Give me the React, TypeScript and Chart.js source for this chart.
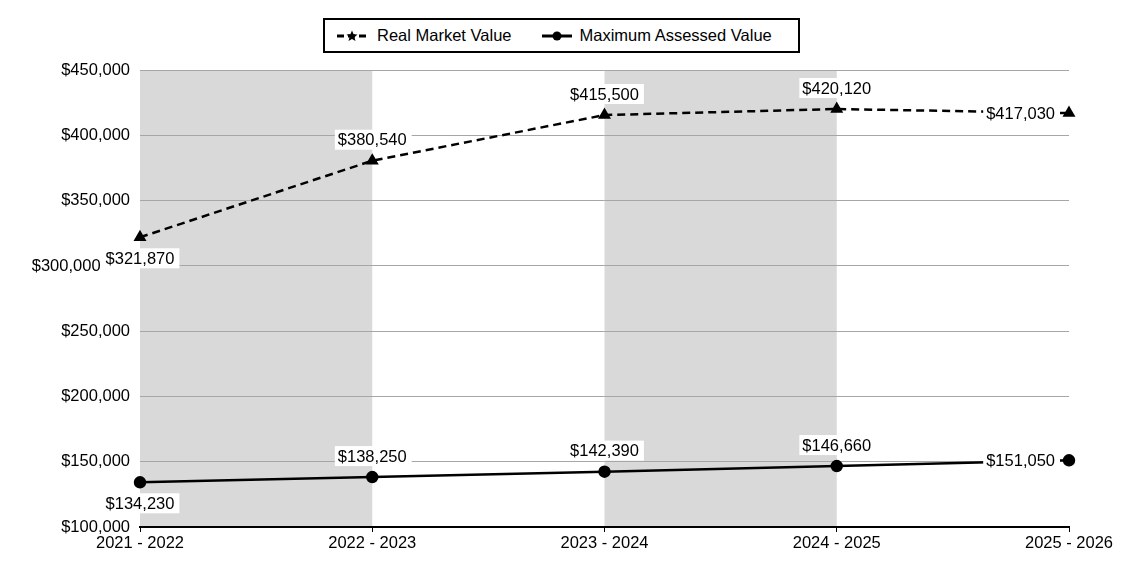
import React, { useEffect, useRef } from "react";
import { Chart, registerables } from "chart.js";

Chart.register(...registerables);

const categories = ["2021 - 2022", "2022 - 2023", "2023 - 2024", "2024 - 2025", "2025 - 2026"];
const realMarketValue = [321870, 380540, 415500, 420120, 417030];
const maxAssessedValue = [134230, 138250, 142390, 146660, 151050];
const seriesNames = ["Real Market Value", "Maximum Assessed Value"];
const yMin = 100000;
const yMax = 450000;
const yStep = 50000;

const FONT = "'Liberation Sans', Arial, sans-serif";
const FSIZE = 16.5;
const fmt = (v: number) => "$" + v.toLocaleString("en-US");

const bandsPlugin = {
  id: "bands",
  beforeDraw(chart: any) {
    const { ctx, chartArea, scales } = chart;
    const x = scales.x;
    ctx.save();
    ctx.fillStyle = "#d9d9d9";
    for (let i = 0; i + 1 < categories.length; i += 2) {
      const x0 = x.getPixelForValue(i);
      const x1 = x.getPixelForValue(i + 1);
      ctx.fillRect(x0, chartArea.top, x1 - x0, chartArea.bottom - chartArea.top);
    }
    ctx.restore();
  },
};

const labelsPlugin = {
  id: "valueLabels",
  afterDatasetsDraw(chart: any) {
    const { ctx, chartArea, scales } = chart;
    ctx.save();
    ctx.font = FSIZE + "px " + FONT;
    ctx.textBaseline = "middle";
    const items: { text: string; cx: number; cy: number; l: number; r: number; t: number; b: number }[] = [];
    chart.data.datasets.forEach((ds: any, di: number) => {
      const meta = chart.getDatasetMeta(di);
      meta.data.forEach((pt: any, i: number) => {
        const text = fmt(ds.data[i]);
        const w = ctx.measureText(text).width;
        const h = 18;
        let cx = pt.x;
        let cy = pt.y - 21;
        if (i === 0) {
          cy = pt.y + 21;
        } else if (i === ds.data.length - 1) {
          cx = pt.x - 14 - w / 2;
          cy = pt.y;
        }
        items.push({ text, cx, cy, l: cx - w / 2 - 3, r: cx + w / 2 + 5, t: cy - h / 2 - 1, b: cy + h / 2 + 1 });
      });
    });
    // shift any y tick label that would be hidden by a value label
    const y = scales.y;
    const right = chartArea.left - 10;
    y.ticks.forEach((t: any) => {
      const text = fmt(Number(t.value));
      const w = ctx.measureText(text).width;
      const py = y.getPixelForValue(t.value);
      const tl = { l: right - w, r: right, t: py - 9, b: py + 9 };
      const hit = items.find((b) => tl.r > b.l && tl.l < b.r && tl.b > b.t && tl.t < b.b);
      if (hit) {
        ctx.fillStyle = "#ffffff";
        ctx.fillRect(tl.l - 2, tl.t - 2, w + 4, tl.b - tl.t + 4);
        ctx.fillStyle = "#000000";
        ctx.textAlign = "right";
        ctx.fillText(text, hit.l - 2, py + 1);
      }
    });
    items.forEach((it) => {
      ctx.fillStyle = "#ffffff";
      ctx.fillRect(it.l, it.t, it.r - it.l, it.b - it.t);
      ctx.fillStyle = "#000000";
      ctx.textAlign = "center";
      ctx.fillText(it.text, it.cx, it.cy + 1);
    });
    ctx.restore();
  },
};

function LegendSymbol({ dashed, marker }: { dashed: boolean; marker: "star" | "circle" }) {
  return (
    <svg width="32" height="14" style={{ display: "block" }}>
      <line
        x1="1"
        y1="7"
        x2="31"
        y2="7"
        stroke="#000"
        strokeWidth="3"
        strokeDasharray={dashed ? "7,4" : undefined}
      />
      {marker === "circle" ? (
        <circle cx="16" cy="7" r="4.5" fill="#000" />
      ) : (
        <polygon
          points="16,1.5 17.6,5.3 21.5,5.6 18.5,8.2 19.5,12 16,9.9 12.5,12 13.5,8.2 10.5,5.6 14.4,5.3"
          fill="#000"
        />
      )}
    </svg>
  );
}

export default function App() {
  const canvasRef = useRef<HTMLCanvasElement | null>(null);

  useEffect(() => {
    if (!canvasRef.current) return;
    const chart = new Chart(canvasRef.current, {
      type: "line",
      data: {
        labels: categories,
        datasets: [
          {
            label: seriesNames[0],
            data: realMarketValue,
            borderColor: "#000",
            backgroundColor: "#000",
            borderWidth: 2.5,
            borderDash: [8, 5],
            pointStyle: "triangle",
            pointRadius: 5,
            pointBackgroundColor: "#000",
            pointBorderColor: "#000",
            tension: 0,
          },
          {
            label: seriesNames[1],
            data: maxAssessedValue,
            borderColor: "#000",
            backgroundColor: "#000",
            borderWidth: 2.5,
            pointStyle: "circle",
            pointRadius: 5,
            pointBackgroundColor: "#000",
            pointBorderColor: "#000",
            tension: 0,
          },
        ],
      },
      options: {
        animation: false,
        responsive: true,
        maintainAspectRatio: false,
        layout: { padding: { top: 70, right: 56, left: 0, bottom: 0 } },
        plugins: {
          legend: { display: false },
          tooltip: { enabled: false },
        },
        scales: {
          x: {
            type: "category",
            offset: false,
            grid: {
              display: true,
              drawOnChartArea: false,
              drawTicks: true,
              tickLength: 5,
              color: "#000",
            },
            border: { display: true, color: "#000", width: 2 },
            ticks: {
              color: "#000",
              font: { family: FONT, size: FSIZE },
              padding: 2,
              maxRotation: 0,
              autoSkip: false,
            },
            afterFit: (s: any) => {
              s.height = 43;
            },
          },
          y: {
            min: yMin,
            max: yMax,
            grid: { color: "#a6a6a6", lineWidth: 1, drawTicks: false },
            border: { display: false },
            ticks: {
              stepSize: yStep,
              color: "#000",
              font: { family: FONT, size: FSIZE },
              padding: 10,
              callback: (v: any) => fmt(Number(v)),
            },
            afterFit: (s: any) => {
              s.width = 140;
            },
          },
        },
      },
      plugins: [bandsPlugin, labelsPlugin],
    });
    return () => chart.destroy();
  }, []);

  return (
    <div style={{ position: "absolute", left: 0, top: 0, width: 1125, height: 570, background: "#fff" }}>
      <canvas ref={canvasRef} />
      <div
        style={{
          position: "absolute",
          left: 323,
          top: 18,
          width: 477,
          height: 35,
          border: "2px solid #000",
          boxSizing: "border-box",
          display: "flex",
          alignItems: "center",
          fontFamily: FONT,
          fontSize: FSIZE,
          color: "#000",
          background: "#fff",
        }}
      >
        <div style={{ display: "flex", alignItems: "center", marginLeft: 11 }}>
          <LegendSymbol dashed marker="star" />
          <span style={{ marginLeft: 9 }}>{seriesNames[0]}</span>
        </div>
        <div style={{ display: "flex", alignItems: "center", marginLeft: 29 }}>
          <LegendSymbol dashed={false} marker="circle" />
          <span style={{ marginLeft: 7 }}>{seriesNames[1]}</span>
        </div>
      </div>
    </div>
  );
}
